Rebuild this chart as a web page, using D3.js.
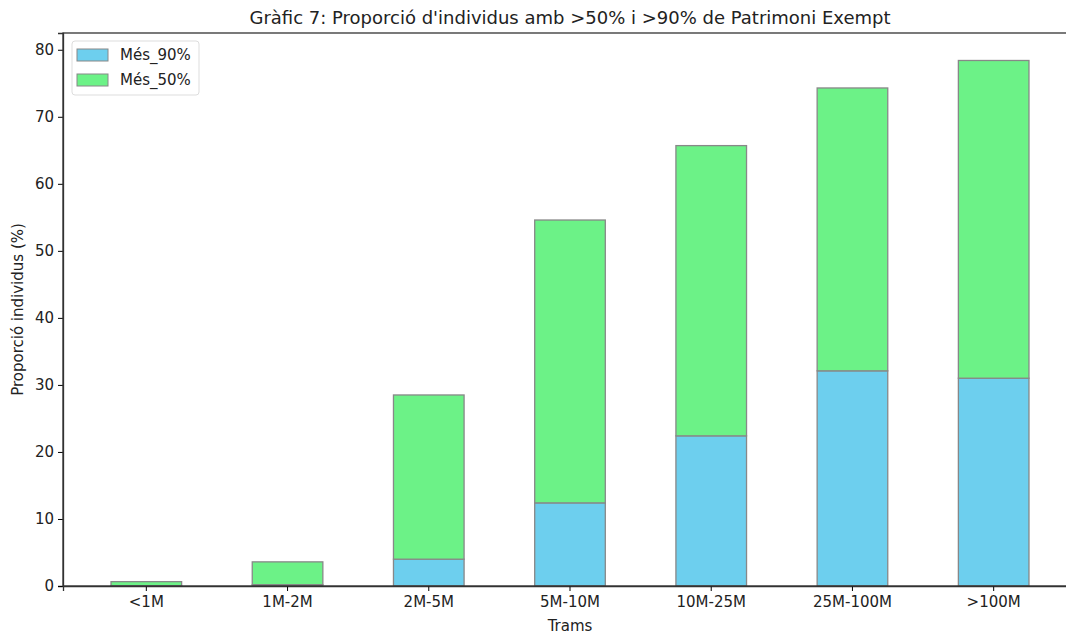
<!DOCTYPE html>
<html>
<head>
<meta charset="utf-8">
<script src="https://cdn.jsdelivr.net/npm/d3@7"></script>
<style>
body { margin: 0; background: #fff; overflow: hidden; }
text { font-family: "DejaVu Sans", sans-serif; fill: #222; }
</style>
</head>
<body>
<div id="chart"></div>
<script>
// trams de patrimoni
var trams = ["<1M", "1M-2M", "2M-5M", "5M-10M", "10M-25M", "25M-100M", ">100M"];
var mes90 = [0.05, 0.2, 4.0, 12.4, 22.4, 32.1, 31.0];
var mes50 = [0.6, 3.4, 24.5, 42.2, 43.3, 42.2, 47.4];
var yTicks = [0, 10, 20, 30, 40, 50, 60, 70, 80];
var seriesNames = ["Més_90%", "Més_50%"];
var colors = ["#6dcfee", "#6cf287"];

// the right edge of the axes is cut off in the original picture
var margin = {top: 33, right: -11, bottom: 48, left: 63},
	width = 1066 - margin.left - margin.right,
	height = 634 - margin.top - margin.bottom;

var rows = trams.map(function(t, i){ return {tram: t, "Més_90%": mes90[i], "Més_50%": mes50[i]}; });
var stack = d3.stack().keys(seriesNames)(rows);

var x = d3.scaleBand()
	.domain(trams)
	.range([0, width])
	.paddingInner(0.5)
	.paddingOuter(0.34);
var y = d3.scaleLinear()
	.domain([0, 82.5])
	.range([height, 0]);

var svg = d3.select("#chart").append("svg")
	.attr("width", 1066)
	.attr("height", 634)
.append("g")
	.attr("transform", "translate(" + margin.left + "," + margin.top + ")");

svg.selectAll(".serie")
	.data(stack)
	.enter().append("g")
		.attr("fill", function(d, i){ return colors[i]; })
	.selectAll("rect")
	.data(function(d){ return d; })
	.enter().append("rect")
		.attr("x", function(d){ return x(d.data.tram); })
		.attr("width", x.bandwidth())
		.attr("y", function(d){ return y(d[1]); })
		.attr("height", function(d){ return y(d[0]) - y(d[1]); })
		.attr("stroke", "#888")
		.attr("stroke-width", 1.3);

//x axis
var xa = svg.append("g")
	.attr("transform", "translate(0," + height + ")")
	.call(d3.axisBottom(x).tickSize(5).tickPadding(5));
xa.selectAll("text").style("font-size", "15px");
svg.append("text")
	.attr("x", width / 2)
	.attr("y", height + 45)
	.style("text-anchor", "middle")
	.style("font-size", "15px")
	.text("Trams");
//y axis
var ya = svg.append("g")
	.call(d3.axisLeft(y).tickValues(yTicks).tickSize(5).tickPadding(4));
ya.selectAll("text").style("font-size", "15px");
svg.append("text")
	.attr("transform", "rotate(-90)")
	.attr("x", -height / 2)
	.attr("y", -40)
	.style("text-anchor", "middle")
	.style("font-size", "15px")
	.text("Proporció individus (%)");

// frame
svg.append("rect")
	.attr("width", width)
	.attr("height", height)
	.attr("fill", "none")
	.attr("stroke", "#333")
	.attr("stroke-width", 1.3);
svg.selectAll(".domain").attr("stroke", "#333").attr("stroke-width", 1.3);

// title
svg.append("text")
	.attr("x", width / 2)
	.attr("y", -9)
	.style("text-anchor", "middle")
	.style("font-size", "18px")
	.text("Gràfic 7: Proporció d'individus amb >50% i >90% de Patrimoni Exempt");

// legend
var lg = svg.append("g").attr("transform", "translate(9,8)");
lg.append("rect")
	.attr("width", 127)
	.attr("height", 54)
	.attr("rx", 3)
	.attr("fill", "#fff")
	.attr("stroke", "#ddd");
seriesNames.forEach(function(s, i){
	lg.append("rect")
		.attr("x", 5)
		.attr("y", 8 + i * 25)
		.attr("width", 31)
		.attr("height", 12)
		.attr("fill", colors[i])
		.attr("stroke", "#888");
	lg.append("text")
		.attr("x", 48)
		.attr("y", 19 + i * 25)
		.style("font-size", "15px")
		.text(s);
});
</script>
</body>
</html>
